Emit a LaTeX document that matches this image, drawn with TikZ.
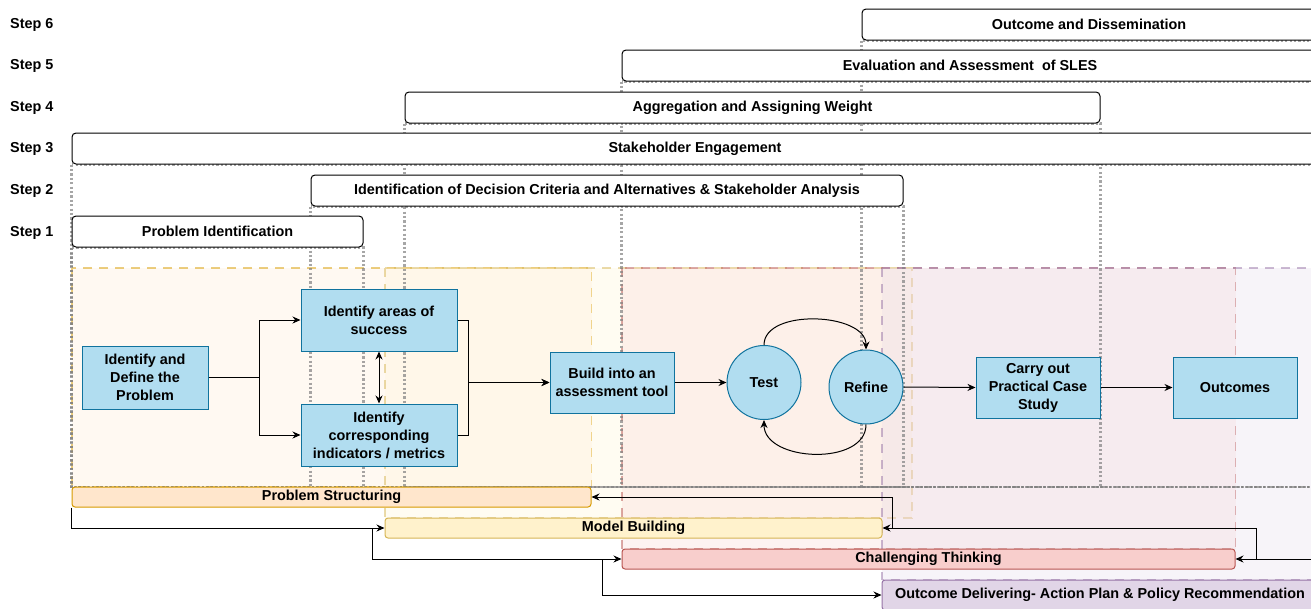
\documentclass[tikz,border=0pt]{standalone}
\usepackage{fontspec}
\setmainfont{Liberation Sans}
\usepackage{xcolor}
\usetikzlibrary{arrows.meta,backgrounds}

\definecolor{boxfill}{HTML}{B1DDF0}
\definecolor{boxline}{HTML}{10739E}
\definecolor{psfill}{HTML}{FFE6CC}
\definecolor{psline}{HTML}{D79B00}
\definecolor{mbfill}{HTML}{FFF2CC}
\definecolor{mbline}{HTML}{D6B656}
\definecolor{ctfill}{HTML}{F8CECC}
\definecolor{ctline}{HTML}{B85450}
\definecolor{odfill}{HTML}{E1D5E7}
\definecolor{odline}{HTML}{9673A6}

\begin{document}
\begin{tikzpicture}[x=1pt,y=-1pt,
	every node/.style={font=\bfseries\fontsize{14.4}{18}\selectfont},
	steplabel/.style={anchor=west, inner sep=0pt},
	stepbar/.style={draw=black, line width=1pt, fill=white, rounded corners=4pt, minimum height=31pt, inner sep=0pt},
	guide/.style={draw=gray, line width=2.2pt, dash pattern=on 2.2pt off 2.2pt, draw opacity=0.7},
	phase/.style={line width=1.2pt, dash pattern=on 9pt off 7pt, fill opacity=0.25, draw opacity=0.5},
	phasebar/.style={line width=1pt, rounded corners=3pt, minimum height=20pt, inner sep=0pt},
	task/.style={draw=boxline, fill=boxfill, line width=1pt, align=center, inner sep=0pt},
	loopnode/.style={circle, draw=boxline, fill=boxfill, line width=1pt, minimum size=74pt, inner sep=0pt},
	link/.style={-{Stealth[length=8pt,width=7pt]}, line width=1pt}]
		% Parameters
		\def\guidebottom{487}
		\def\regiontop{268}
		
		\useasboundingbox (0,0) rectangle (1311,608);
		\coordinate (base) at (0,\guidebottom);
		
		%step labels
		\foreach \n/\y in {6/25,5/66,4/108,3/149,2/191,1/233} {
			\node[steplabel] (l\n) at (10,\y) {Step \n};
		}
		
		%step bars
		\node[stepbar, minimum width=291pt] (s1) at (217.5,231.5) {Problem Identification};
		\node[stepbar, minimum width=592pt] (s2) at (607,190.5) {Identification of Decision Criteria and Alternatives \& Stakeholder Analysis};
		\node[stepbar, minimum width=1246pt] (s3) at (695,148.5) {Stakeholder Engagement};
		\node[stepbar, minimum width=695pt] (s4) at (752.5,107.5) {Aggregation and Assigning Weight};
		\node[stepbar, minimum width=696pt] (s5) at (970,65.5) {Evaluation and Assessment~ of SLES};
		\node[stepbar, minimum width=454pt] (s6) at (1089,24.5) {Outcome and Dissemination};
		
		%phase bars
		\node[phasebar, fill=psfill, draw=psline, minimum width=519pt] (ps) at (331.5,497) {Problem Structuring};
		\node[phasebar, fill=mbfill, draw=mbline, minimum width=497pt] (mb) at (633.5,528) {Model Building};
		\node[phasebar, fill=ctfill, draw=ctline, minimum width=613pt] (ct) at (928.5,559) {Challenging Thinking};
		\node[phasebar, fill=odfill, draw=odline, minimum width=436pt, minimum height=30pt] (od) at (1100,595) {Outcome Delivering- Action Plan \& Policy Recommendation};
		
		%tasks
		\node[task, minimum width=126pt, minimum height=63pt] (define) at (145,377.5) {Identify and\\Define the\\Problem};
		\node[task, minimum width=156pt, minimum height=62pt] (success) at (379,320) {Identify areas of\\success};
		\node[task, minimum width=156pt, minimum height=62pt] (metrics) at (379,435) {Identify\\corresponding\\indicators / metrics};
		\node[task, minimum width=124pt, minimum height=61pt] (build) at (612,382.5) {Build into an\\assessment tool};
		\node[loopnode] (test) at (764,382.5) {Test};
		\node[loopnode] (refine) at (866,387) {Refine};
		\node[task, minimum width=124pt, minimum height=61pt] (case) at (1038,387.5) {Carry out\\Practical Case\\Study};
		\node[task, minimum width=124pt, minimum height=61pt] (outcomes) at (1235,387.5) {Outcomes};
		
		%phases and guides
		\begin{pgfonlayer}{background}
			\draw[phase, fill=psfill, draw=psline] (72,\regiontop) rectangle (ps.north east);
			\draw[phase, fill=mbfill, draw=mbline] (385,\regiontop) rectangle (912,518);
			\draw[phase, fill=ctfill, draw=ctline] (622,\regiontop) rectangle (ct.north east);
			\draw[phase, fill=odfill, draw=odline] (882,\regiontop) rectangle (od.north east);
			\foreach \s in {1,...,6} {
				\draw[guide] (s\s.south west) rectangle (s\s.south east |- base);
			}
		\end{pgfonlayer}
		
		%links
		\draw[link] (define.east) -- ++(51,0) |- (success.west);
		\draw[link] (define.east) -- ++(51,0) |- (metrics.west);
		\draw[link, {Stealth[length=8pt,width=7pt]}-{Stealth[length=8pt,width=7pt]}] (success.south) -- (metrics.north);
		\draw[link] (success.east) -- ++(11,0) |- (build.west);
		\draw[link] (metrics.east) -- ++(11,0) |- (build.west);
		\draw[link] (build.east) -- (test.west);
		\draw[link] (test.north) .. controls +(0,-37) and +(0,-37) .. (refine.north);
		\draw[link] (refine.south) .. controls +(0,42) and +(0,42) .. (test.south);
		\draw[link] (refine.east) -- (case.west);
		\draw[link] (case.east) -- (outcomes.west);
		
		%phase links
		\draw[link] (ps.south west) |- (mb.west);
		\draw[link] ([xshift=-12pt]mb.west) |- (ct.west);
		\draw[link] ([xshift=-19pt]ct.west) |- (od.west);
		\draw[link] (od.east) -- ++(6,0) |- (ct.east);
		\draw[link] ([xshift=21pt]ct.east) |- (mb.east);
		\draw[link] ([xshift=10pt]mb.east) |- (ps.east);
\end{tikzpicture}
\end{document}
